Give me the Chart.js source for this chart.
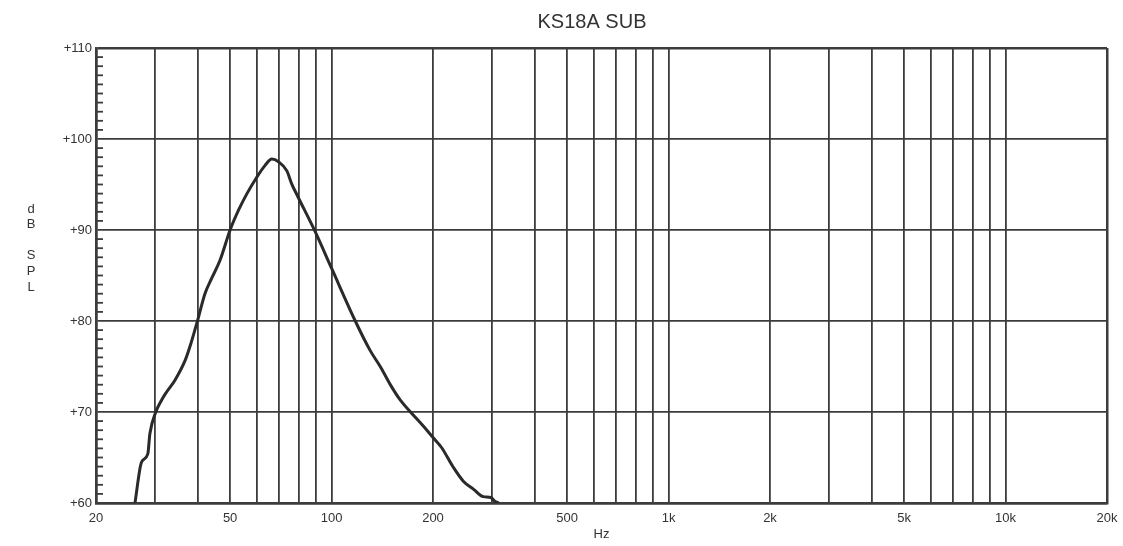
<!DOCTYPE html>
<html>
<head>
<meta charset="utf-8">
<script src="https://cdn.jsdelivr.net/npm/chart.js@4.4.1/dist/chart.umd.min.js"></script>
<style>
    html, body { margin: 0; padding: 0; background: #fff; }
    #wrap { width: 1123px; height: 546px; position: relative; }
</style>
</head>
<body>
<div id="wrap"><canvas id="splChart"></canvas></div>
<script>
// Frequency response (Hz / dB SPL)
const freqHz = [26.1, 27.3, 28.5, 28.9, 30.1, 31.3, 32.4, 34.3, 36.8, 38.3, 40.0, 42.1, 44.1, 46.7, 50.0, 53.0, 56.1, 60.0, 63.5, 66.5, 69.6, 73.7, 76.1, 79.6, 89.2, 100, 117.6, 130, 140, 150, 160, 171.5, 187.7, 200, 212, 230, 246, 264, 282, 297, 305, 313];
const splDb = [60.0, 64.5, 65.4, 67.6, 70.0, 71.3, 72.2, 73.5, 75.7, 77.6, 80.0, 83.0, 84.7, 86.7, 90.0, 92.2, 94.0, 95.8, 97.1, 97.8, 97.5, 96.5, 95.1, 93.6, 89.9, 85.8, 80.0, 76.8, 74.9, 72.9, 71.3, 70.0, 68.4, 67.2, 66.1, 63.9, 62.4, 61.5, 60.7, 60.6, 60.2, 60.0];

// x grid / tick positions and which of them get a label
const xGridValues = [20, 30, 40, 50, 60, 70, 80, 90, 100, 200, 300, 400, 500, 600, 700, 800, 900,
    1000, 2000, 3000, 4000, 5000, 6000, 7000, 8000, 9000, 10000, 20000];
const xLabelValues = [20, 50, 100, 200, 500, 1000, 2000, 5000, 10000, 20000];
const xLabelText = ['20', '50', '100', '200', '500', '1k', '2k', '5k', '10k', '20k'];

const yMin = 60;
const yMax = 110;
const titleText = 'KS18A SUB';
const yTitleLetters = ['d', 'B', '', 'S', 'P', 'L'];

const ink = '#333333';
const gridInk = '#3c3c3c';
const fontFamily = '"Liberation Sans", Arial, Helvetica, sans-serif';

// title, short 1 dB tick marks inside the left edge, stacked "dB SPL" label
const extrasPlugin = {
    id: 'extras',
    afterDraw(chart) {
        const ctx = chart.ctx;
        const yScale = chart.scales.y;
        const area = chart.chartArea;
        ctx.save();
        ctx.strokeStyle = gridInk;
        ctx.lineWidth = 1.8;
        yScale.ticks.forEach(t => {
            if (t.value % 10 === 0) return;
            const y = yScale.getPixelForValue(t.value);
            ctx.beginPath();
            ctx.moveTo(area.left, y);
            ctx.lineTo(area.left + 7, y);
            ctx.stroke();
        });

        ctx.fillStyle = ink;
        ctx.textAlign = 'center';

        ctx.font = '20px ' + fontFamily;
        ctx.textBaseline = 'alphabetic';
        ctx.fillText(titleText, 592, 28);

        ctx.font = '13px ' + fontFamily;
        ctx.textBaseline = 'middle';
        yTitleLetters.forEach((ch, i) => {
            ctx.fillText(ch, 31, 209 + i * 15.6);
        });
        ctx.restore();
    }
};

const ctx = document.getElementById('splChart');

new Chart(ctx, {
    type: 'line',
    data: {
        datasets: [{
            data: freqHz.map((f, i) => ({ x: f, y: splDb[i] })),
            borderColor: '#2a2a2a',
            borderWidth: 3,
            pointRadius: 0,
            cubicInterpolationMode: 'monotone',
            fill: false
        }]
    },
    options: {
        responsive: true,
        maintainAspectRatio: false,
        animation: false,
        layout: { padding: { left: 0, right: 16, top: 48, bottom: 0 } },
        plugins: {
            legend: { display: false },
            tooltip: { enabled: false },
            title: { display: false }
        },
        scales: {
            x: {
                type: 'logarithmic',
                min: 20,
                max: 20000,
                afterBuildTicks: (scale) => {
                    scale.ticks = xGridValues.map(v => ({ value: v }));
                },
                afterFit: (scale) => {
                    scale.height = 43;
                    scale.paddingLeft = 0;
                    scale.paddingRight = 0;
                },
                ticks: {
                    autoSkip: false,
                    maxRotation: 0,
                    padding: 8,
                    color: ink,
                    font: { family: fontFamily, size: 13 },
                    callback: function (value) {
                        const i = xLabelValues.indexOf(value);
                        return i >= 0 ? xLabelText[i] : '';
                    }
                },
                grid: {
                    drawTicks: false,
                    color: gridInk,
                    lineWidth: (c) => (c.tick && (c.tick.value === 20 || c.tick.value === 20000)) ? 2.5 : 1.8
                },
                border: { display: true, color: gridInk, width: 2.5 },
                title: {
                    display: true,
                    text: 'Hz',
                    color: ink,
                    font: { family: fontFamily, size: 13 },
                    padding: { top: 0, bottom: 4 }
                }
            },
            y: {
                min: yMin,
                max: yMax,
                afterFit: (scale) => { scale.width = 96; },
                ticks: {
                    stepSize: 1,
                    autoSkip: false,
                    padding: 4,
                    color: ink,
                    font: { family: fontFamily, size: 13 },
                    callback: function (value) {
                        return value % 10 === 0 ? '+' + value : '';
                    }
                },
                grid: {
                    drawTicks: false,
                    color: (c) => (c.tick && c.tick.value % 10 === 0) ? gridInk : 'rgba(0,0,0,0)',
                    lineWidth: (c) => (c.tick && (c.tick.value === yMax || c.tick.value === yMin)) ? 2.5 : 1.8
                },
                border: { display: true, color: gridInk, width: 2.5 }
            }
        }
    },
    plugins: [extrasPlugin]
});
</script>
</body>
</html>
